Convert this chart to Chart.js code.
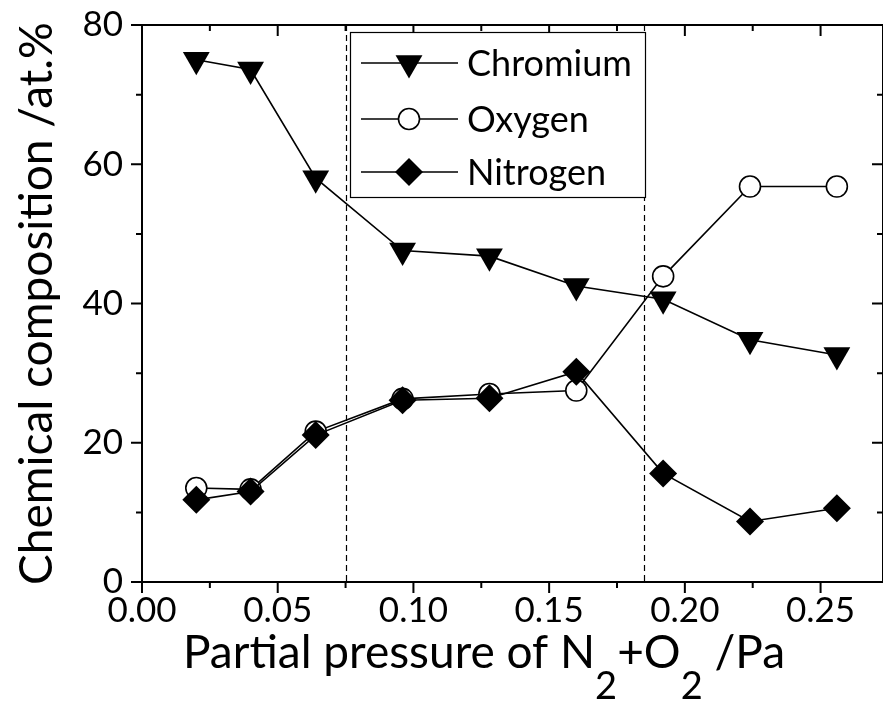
<!DOCTYPE html>
<html>
<head>
<meta charset="utf-8">
<script src="https://cdn.jsdelivr.net/npm/chart.js@4/dist/chart.umd.min.js"></script>
<style>
html,body{margin:0;padding:0;background:#fff;}
#wrap{width:883px;height:705px;position:relative;overflow:hidden;}
</style>
</head>
<body>
<div id="wrap"><canvas id="c" width="883" height="705"></canvas></div>
<script>
// ---- data ----
const pressure = [0.02, 0.04, 0.064, 0.096, 0.128, 0.16, 0.192, 0.224, 0.256];
const chromium = [75.0, 73.6, 58.0, 47.6, 46.8, 42.5, 40.6, 34.8, 32.6];
const oxygen   = [13.5, 13.3, 21.6, 26.3, 27.0, 27.5, 43.9, 56.8, 56.8];
const nitrogen = [11.8, 13.0, 21.1, 26.1, 26.4, 30.2, 15.6, 8.7, 10.6];
const seriesNames = ['Chromium', 'Oxygen', 'Nitrogen'];
const xTicks = [0, 0.05, 0.10, 0.15, 0.20, 0.25];
const xMinorTicks = [0.025, 0.075, 0.125, 0.175, 0.225];
const yTicks = [0, 20, 40, 60, 80];
const yMinorTicks = [10, 30, 50, 70];
const regionBounds = [0.075, 0.185];
const xTitleParts = [['Partial pressure of N', false], ['2', true], ['+O', false], ['2', true], [' /Pa', false]];
const yTitle = 'Chemical composition /at.%';

const FONT = 'Lato, "Open Sans", "Liberation Sans", sans-serif';
const toXY = arr => arr.map((v, i) => ({x: pressure[i], y: v}));

const markerStyles = [
  {pointStyle: 'triangle', rotation: 180, radius: 15.5, fill: '#000', borderWidth: 0},
  {pointStyle: 'circle', rotation: 0, radius: 10.5, fill: '#fff', borderWidth: 1.6},
  {pointStyle: 'rectRot', rotation: 0, radius: 14, fill: '#000', borderWidth: 0}
];
const seriesData = [chromium, oxygen, nitrogen];

const datasets = seriesNames.map((name, i) => ({
  label: name,
  data: toXY(seriesData[i]),
  showLine: true,
  borderColor: '#000',
  borderWidth: 1.6,
  backgroundColor: markerStyles[i].fill,
  pointStyle: markerStyles[i].pointStyle,
  pointRotation: markerStyles[i].rotation,
  pointRadius: markerStyles[i].radius,
  pointHoverRadius: markerStyles[i].radius,
  pointBackgroundColor: markerStyles[i].fill,
  pointBorderColor: '#000',
  pointBorderWidth: markerStyles[i].borderWidth,
  order: 3 - i,
  tension: 0
}));

function drawMarker(ctx, st, x, y) {
  ctx.save();
  ctx.fillStyle = st.fill;
  ctx.strokeStyle = '#000';
  ctx.lineWidth = st.borderWidth || 0;
  const r = st.radius;
  ctx.beginPath();
  if (st.pointStyle === 'triangle') {
    ctx.moveTo(x, y + r);
    ctx.lineTo(x - r * Math.sqrt(3) / 2, y - r / 2);
    ctx.lineTo(x + r * Math.sqrt(3) / 2, y - r / 2);
    ctx.closePath();
  } else if (st.pointStyle === 'circle') {
    ctx.arc(x, y, r, 0, Math.PI * 2);
  } else {
    ctx.moveTo(x - r, y); ctx.lineTo(x, y - r); ctx.lineTo(x + r, y); ctx.lineTo(x, y + r);
    ctx.closePath();
  }
  ctx.fill();
  if (st.borderWidth) ctx.stroke();
  ctx.restore();
}

function noPad(s) { s.paddingTop = 0; s.paddingBottom = 0; s.paddingLeft = 0; s.paddingRight = 0; }

const decorPlugin = {
  id: 'decor',
  beforeDatasetsDraw(chart) {
    const {ctx, chartArea: a, scales: {x}} = chart;
    ctx.save();
    ctx.strokeStyle = '#000';
    ctx.lineWidth = 1.2;
    ctx.setLineDash([6, 4]);
    regionBounds.forEach(v => {
      const px = Math.round(x.getPixelForValue(v)) + 0.5;
      ctx.beginPath(); ctx.moveTo(px, a.top); ctx.lineTo(px, a.bottom); ctx.stroke();
    });
    ctx.restore();
  },
  afterDraw(chart) {
    const {ctx, chartArea: a, scales: {x, y}} = chart;
    ctx.save();
    // frame
    ctx.strokeStyle = '#000';
    ctx.lineWidth = 2;
    ctx.strokeRect(a.left, a.top, a.right - a.left, a.bottom - a.top);
    // tick marks
    const MAJ = 11, MIN = 6;
    ctx.beginPath();
    const xt = (v, len) => {
      const px = x.getPixelForValue(v);
      ctx.moveTo(px, a.bottom); ctx.lineTo(px, a.bottom + len);  // bottom, outward
      ctx.moveTo(px, a.top); ctx.lineTo(px, a.top + len);        // top, inward
    };
    const yt = (v, len) => {
      const py = y.getPixelForValue(v);
      ctx.moveTo(a.left, py); ctx.lineTo(a.left - len, py);     // left, outward
      ctx.moveTo(a.right, py); ctx.lineTo(a.right - len, py);   // right, inward
    };
    xTicks.forEach(v => xt(v, MAJ));
    xMinorTicks.forEach(v => xt(v, MIN));
    yTicks.forEach(v => yt(v, MAJ));
    yMinorTicks.forEach(v => yt(v, MIN));
    ctx.stroke();

    // x-axis title with subscripts
    const mainFont = '46px ' + FONT, subFont = '38px ' + FONT;
    let total = 0;
    xTitleParts.forEach(([t, sub]) => { ctx.font = sub ? subFont : mainFont; total += ctx.measureText(t).width; });
    let cx = 484 - total / 2;
    const base = 668;
    ctx.fillStyle = '#000';
    ctx.textBaseline = 'alphabetic';
    ctx.textAlign = 'left';
    xTitleParts.forEach(([t, sub]) => {
      ctx.font = sub ? subFont : mainFont;
      ctx.fillText(t, cx, sub ? base + 31 : base);
      cx += ctx.measureText(t).width;
    });

    // legend
    const box = {left: 350, top: 32, right: 645, bottom: 197};
    ctx.fillStyle = '#fff';
    ctx.fillRect(box.left, box.top, box.right - box.left, box.bottom - box.top);
    ctx.lineWidth = 1.2;
    ctx.strokeStyle = '#000';
    ctx.strokeRect(box.left + 0.5, box.top + 0.5, box.right - box.left, box.bottom - box.top);
    const rows = [63, 119, 172];
    seriesNames.forEach((name, i) => {
      const ry = rows[i];
      ctx.lineWidth = 1.6;
      ctx.beginPath(); ctx.moveTo(361, ry); ctx.lineTo(458, ry); ctx.stroke();
      drawMarker(ctx, markerStyles[i], 409, ry);
      ctx.fillStyle = '#000';
      ctx.font = '36px ' + FONT;
      ctx.textBaseline = 'alphabetic';
      ctx.fillText(name, 467, ry + 13);
    });
    ctx.restore();
  }
};

new Chart(document.getElementById('c'), {
  type: 'scatter',
  data: {datasets},
  options: {
    responsive: false,
    animation: false,
    devicePixelRatio: 1,
    layout: {autoPadding: false, padding: {top: 25, right: -3, left: 0, bottom: 0}},
    plugins: {legend: {display: false}, tooltip: {enabled: false}},
    scales: {
      x: {
        type: 'linear',
        min: 0, max: 0.273,
        afterBuildTicks: s => { s.ticks = xTicks.map(v => ({value: v})); },
        afterFit: s => { s.height = 123; noPad(s); },
        grid: {display: false, drawTicks: false},
        border: {display: false},
        ticks: {
          color: '#000', padding: 8,
          font: {family: FONT, size: 35},
          callback: v => Number(v).toFixed(2),
          maxRotation: 0, autoSkip: false
        }
      },
      y: {
        type: 'linear',
        min: 0, max: 80,
        afterBuildTicks: s => { s.ticks = yTicks.map(v => ({value: v})); },
        afterFit: s => { s.width = 142; noPad(s); },
        grid: {display: false, drawTicks: false},
        border: {display: false},
        ticks: {color: '#000', padding: 19, font: {family: FONT, size: 35}},
        title: {
          display: true, text: yTitle, color: '#000',
          font: {family: FONT, size: 46},
          padding: {top: 10, bottom: 0}
        }
      }
    }
  },
  plugins: [decorPlugin]
});
</script>
</body>
</html>
